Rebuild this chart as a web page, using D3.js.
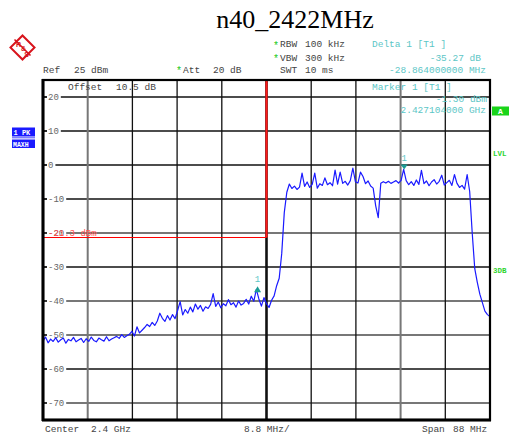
<!DOCTYPE html>
<html><head><meta charset="utf-8">
<script src="https://cdn.jsdelivr.net/npm/d3@7"></script>
<style>
body{margin:0;background:#fff;}
text{font-family:"Liberation Mono","DejaVu Sans Mono",monospace;}
</style></head>
<body><svg id="c" width="514" height="441"></svg>
<script>
// ---- data ----
const title = "n40_2422MHz";
const freqStartGHz = 2.356;
const freqStopGHz = 2.444;
const freqStepMHz = 0.5;
const refLevel = 25;
const bottomLevel = -75;
const yTicks = [20, 10, 0, -10, -20, -30, -40, -50, -60, -70];
const grayHLevels = [-20, -40, -50, -70];
const xDivisions = 10;
const grayVIndex = [1, 8];
const displayLineLevel = -21.3;
const displayLineLabel = "-21.3 dBm";
const traceLevels = [
 -51.8,-50.6,-52.3,-51.2,-51.9,-50.8,-52.1,-51.4,-50.9,-52.4,-51.3,-51.7,-50.7,-52.0,-51.5,-51.0,-52.2,
 -51.1,-51.9,-50.6,-51.6,-52.0,-50.9,-51.4,-51.8,-50.5,-51.7,-51.2,-50.8,
 -50.4,-51.0,-49.9,-50.7,-50.2,
 -49.8,-48.9,-50.3,-47.6,-49.4,-48.6,
 -47.8,-46.9,-47.5,-46.3,-47.2,-45.9,
 -43.6,
 -45.1,-46.0,-44.3,-45.6,-44.0,-45.2,
 -42.8,-40.2,-44.1,-42.5,-43.6,
 -41.8,-43.2,-40.9,-42.4,-41.3,-43.0,-41.7,-42.2,
 -41.0,-37.8,
 -41.6,-40.3,-42.0,-40.8,-41.4,-39.6,-41.1,-40.5,-41.8,-40.0,-41.2,-40.7,-39.5,
 -40.9,-38.6,-40.1,
 -36.6,-39.4,
 -41.5,-39.0,-40.8,-41.9,-39.8,
 -38.5,-35.5,-33.3,-26.0,-14.0,-8.0,-5.6,
 -6.9,-6.2,-7.2,-6.5,-2.4,-6.3,-5.0,-6.6,-5.7,-2.4,-6.8,-5.5,-6.0,-3.8,-5.8,-5.2,
 -6.1,-1.5,-5.6,-2.1,-5.4,-4.8,-5.9,-4.6,-0.9,-4.9,-5.3,-2.1,-3.4,-5.5,-4.7,-6.2,
 -6.8,-12.0,-15.5,-5.4,
 -4.9,-5.3,-4.8,-5.4,-5.0,-4.6,-5.3,-4.5,
 -1.3,
 -4.6,-5.8,-4.9,-6.0,-4.4,-5.7,-1.6,-5.5,-4.7,-6.1,-5.0,-4.3,-5.6,-4.8,-3.0,-5.9,
 -5.2,-4.5,-6.0,-2.8,-5.4,-6.6,-6.0,-7.1,-2.8,-7.8,
 -20.0,-30.5,-34.5,-38.0,-40.5,-43.0,-44.0,-44.6
];
const markerFreqsGHz = [2.39824, 2.427104];
const markerLevels = [-36.57, -1.30];
const markerDirs = ["up", "down"];
const markerLabels = ["1", "1"];

// ---- drawing ----
const svg = d3.select("#c");
const L = 43, R = 490, T = 80, B = 420;
const x = d3.scaleLinear().domain([freqStartGHz, freqStopGHz]).range([L, R]);
const y = d3.scaleLinear().domain([bottomLevel, refLevel]).range([B, T]);

svg.append("rect").attr("width",514).attr("height",441).attr("fill","#fff");

// title
svg.append("text").attr("x",295).attr("y",28).attr("text-anchor","middle")
  .style("font-family","'Liberation Serif','Times New Roman',serif").style("font-size","26px")
  .attr("fill","#000").text(title);

// R&S logo
const logo = svg.append("g").attr("transform","translate(22.5,47.5)");
logo.append("rect").attr("x",-8.5).attr("y",-8.5).attr("width",17).attr("height",17)
  .attr("transform","rotate(45)").attr("fill","none").attr("stroke","#d8141c").attr("stroke-width",2);
logo.append("line").attr("x1",-8).attr("y1",-8).attr("x2",8).attr("y2",8).attr("stroke","#d8141c").attr("stroke-width",1.6);
[["R",-4,-1],["&",1,3],["S",4,9]].forEach(([t,dx,dy])=>{
  logo.append("text").attr("x",dx).attr("y",dy).attr("text-anchor","middle")
   .style("font-family","'Liberation Sans',Arial,sans-serif").style("font-size","7px").style("font-weight","bold")
   .attr("fill","#d8141c").text(t);
});

// header texts
const fs = "9.5px";
function txt(xp, yp, s, col, anchor){
  return svg.append("text").attr("x",xp).attr("y",yp).attr("fill",col||"#444")
    .attr("text-anchor",anchor||"start").style("font-size",fs).attr("xml:space","preserve").text(s);
}
function star(xp, yp){
  svg.append("text").attr("x",xp).attr("y",yp).attr("fill","#19c919").style("font-size","10px").text("*");
}
star(273,49); txt(280,47,"RBW"); txt(305,47,"100 kHz");
star(273,62); txt(280,61,"VBW"); txt(305,61,"300 kHz");
txt(280,73,"SWT"); txt(305,73,"10 ms");
txt(43,73,"Ref"); txt(74,73,"25 dBm");
star(176,74); txt(183,73,"Att"); txt(213,73,"20 dB");
txt(372,47,"Delta 1 [T1 ]","#5cc6c6");
txt(481,61,"-35.27 dB","#5cc6c6","end");
txt(486,73,"-28.864000000 MHz","#5cc6c6","end");

// grid horizontal
const gridG = svg.append("g");
yTicks.forEach(v=>{
  const gray = grayHLevels.includes(v);
  gridG.append("line").attr("x1",L).attr("x2",R).attr("y1",y(v)).attr("y2",y(v))
    .attr("stroke", gray ? "#777" : "#111").attr("stroke-width", gray ? 2 : 1.3);
});
// grid vertical
const vx = d3.range(1, xDivisions).map(i => freqStartGHz + i*(freqStopGHz-freqStartGHz)/xDivisions);
vx.forEach((f,i)=>{
  const idx = i+1;
  const gray = grayVIndex.includes(idx);
  const center = idx === xDivisions/2;
  gridG.append("line").attr("x1",x(f)).attr("x2",x(f)).attr("y1",T).attr("y2",B)
    .attr("stroke", gray ? "#777" : "#111").attr("stroke-width", center ? 2.6 : (gray ? 2 : 1.3));
});

// y tick labels with white background
yTicks.forEach(v=>{
  const t = svg.append("text").attr("x",48).attr("y",y(v)+3).attr("fill","#666")
    .style("font-size","9px").text(v);
  const bb = t.node().getBBox();
  svg.insert("rect", () => t.node()).attr("x",47).attr("y",y(v)-2).attr("width",bb.width+3).attr("height",4).attr("fill","#fff");
  svg.append("line").attr("x1",L).attr("x2",L+4).attr("y1",y(v)).attr("y2",y(v)).attr("stroke","#111").attr("stroke-width",1.3);
});

// display line (red)
const cx = x((freqStartGHz+freqStopGHz)/2);
const dly = Math.round(y(displayLineLevel)) + 0.5;
svg.append("line").attr("x1",L).attr("x2",cx).attr("y1",dly).attr("y2",dly)
  .attr("stroke","#ff0000").attr("stroke-width",1.2);
svg.append("line").attr("x1",cx).attr("x2",cx).attr("y1",T).attr("y2",dly)
  .attr("stroke","#ff1a1a").attr("stroke-width",2.2);
svg.append("text").attr("x",48).attr("y",y(displayLineLevel)-1.5).attr("fill","#ff5050")
  .style("font-size","9px").attr("xml:space","preserve").text(displayLineLabel);

// inside texts
txt(68,90,"Offset"); txt(116,90,"10.5 dB");
txt(372,90,"Marker 1 [T1 ]","#5cc6c6");
txt(487,102,"-1.30 dBm","#5cc6c6","end");
txt(486,113,"2.427104000 GHz","#5cc6c6","end");

// trace
const traceData = traceLevels.map((v,i)=>[freqStartGHz + i*freqStepMHz/1000, v]);
const line = d3.line().x(d=>x(d[0])).y(d=>y(d[1]));
svg.append("path").datum(traceData).attr("d",line).attr("fill","none")
  .attr("stroke","#1a1aff").attr("stroke-width",1.2).attr("stroke-linejoin","round");

// markers
markerFreqsGHz.forEach((f,i)=>{
  const mx = x(f), my = y(markerLevels[i]);
  const tri = markerDirs[i]==="up"
    ? `M${mx-3.5},${my+3} L${mx+3.5},${my+3} L${mx},${my-3} Z`
    : `M${mx-3.5},${my-5} L${mx+3.5},${my-5} L${mx},${my} Z`;
  svg.append("path").attr("d",tri).attr("fill","#1a9c94");
  svg.append("text").attr("x",mx).attr("y", markerDirs[i]==="up" ? my-7 : my-8).attr("text-anchor","middle")
    .attr("fill","#5cc6c6").style("font-size","9px").text(markerLabels[i]);
});

// frame
svg.append("rect").attr("x",L).attr("y",T).attr("width",R-L).attr("height",B-T)
  .attr("fill","none").attr("stroke","#000").attr("stroke-width",2.2);
svg.append("line").attr("x1",L).attr("x2",L).attr("y1",T-1).attr("y2",B+1).attr("stroke","#000").attr("stroke-width",3);
svg.append("line").attr("x1",L-1).attr("x2",R+1).attr("y1",B).attr("y2",B).attr("stroke","#000").attr("stroke-width",3);

// left status boxes
svg.append("rect").attr("x",12).attr("y",127.5).attr("width",23).attr("height",9).attr("fill","#1a1aff");
svg.append("rect").attr("x",12).attr("y",139.5).attr("width",23).attr("height",8.5).attr("fill","#1a1aff");
svg.append("line").attr("x1",12).attr("x2",35).attr("y1",137.8).attr("y2",137.8).attr("stroke","#1a1aff").attr("stroke-width",0.8);
svg.append("text").attr("x",13.5).attr("y",135).attr("fill","#fff").style("font-size","7px").style("font-weight","bold").attr("xml:space","preserve").text("1 PK");
svg.append("text").attr("x",13).attr("y",146.5).attr("fill","#fff").style("font-size","6.5px").style("font-weight","bold").text("MAXH");

// right status
svg.append("rect").attr("x",492).attr("y",106.5).attr("width",17).attr("height",9).attr("fill","#19d419");
svg.append("text").attr("x",500.5).attr("y",114).attr("text-anchor","middle").attr("fill","#fff").style("font-size","8px").style("font-weight","bold").text("A");
svg.append("text").attr("x",493).attr("y",156).attr("fill","#2dd42d").style("font-size","7.5px").style("font-weight","bold").text("LVL");
svg.append("text").attr("x",493).attr("y",273).attr("fill","#2dd42d").style("font-size","7.5px").style("font-weight","bold").text("3DB");

// bottom
txt(45,432,"Center"); txt(91,432,"2.4 GHz");
txt(244,432,"8.8 MHz/");
txt(422,432,"Span"); txt(453,432,"88 MHz");
</script></body></html>
